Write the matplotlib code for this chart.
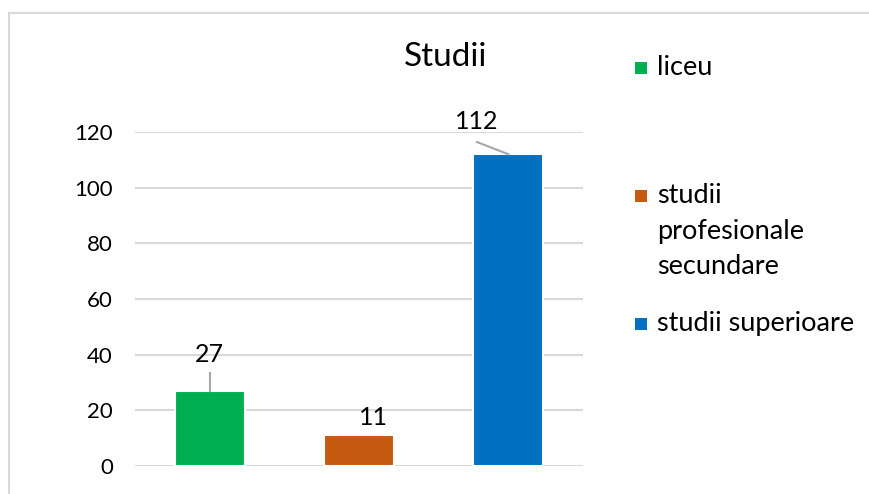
import matplotlib.pyplot as plt
from matplotlib.patches import Rectangle

categories = ['liceu', 'studii\nprofesionale\nsecundare', 'studii superioare']
values = [27, 11, 112]
colors = ['#00B050', '#C55A11', '#0070C0']
yticks = [0, 20, 40, 60, 80, 100, 120]

plt.rcParams['font.family'] = ['Lato', 'DejaVu Sans']

W, H = 870, 494
fig = plt.figure(figsize=(W / 100, H / 100), dpi=100)

# chart frame (partly cut off at the bottom, as in the screenshot)
fig.patches.append(Rectangle((9 / W, -0.1), 1.2, 1.1 - 13 / H, transform=fig.transFigure,
                             fill=False, edgecolor='#D9D9D9', linewidth=1.5))

ax = fig.add_axes([135 / W, 1 - 466 / H, (583 - 135) / W, (466 - 132) / H])
x = range(len(values))
ax.bar(x, values, width=0.47, color=colors, edgecolor='white', linewidth=1.5, zorder=3)
ax.set_xlim(-0.5, 2.5)
ax.set_ylim(0, 120)
ax.set_yticks(yticks)
ax.set_xticks([])
ax.tick_params(axis='y', length=0, pad=16, labelsize=16)
ax.yaxis.grid(True, color='#D9D9D9', linewidth=1.5, zorder=0)
ax.set_axisbelow(True)
for s in ax.spines.values():
    s.set_visible(False)

# data labels with leader lines
lead = dict(color='#A6A6A6', lw=1.5, clip_on=False, zorder=4)
ax.text(0, 40, str(values[0]), ha='center', va='center', fontsize=18)
ax.plot([0, 0], [33.4, values[0]], **lead)
ax.text(1.1, values[1] + 6.5, str(values[1]), ha='center', va='center', fontsize=18)
ax.text(1.79, 123.8, str(values[2]), ha='center', va='center', fontsize=18)
ax.plot([1.79, 2.0], [116.4, values[2]], **lead)

fig.text(446 / W, 1 - 57 / H, 'Studii', ha='center', va='center', fontsize=24)

# legend drawn by hand so that wrapped labels keep the marker on the first line
leg_y = [68, 196, 324]
for cat, c, yc in zip(categories, colors, leg_y):
    fig.patches.append(Rectangle((635 / W, 1 - (yc + 6) / H), 12 / W, 12 / H,
                                 transform=fig.transFigure, facecolor=c, edgecolor='none'))
    for i, line in enumerate(cat.split('\n')):
        fig.text(657 / W, 1 - (yc + 7 + i * 35.5) / H, line, ha='left', va='baseline',
                 fontsize=19.5)

fig.savefig('out.png', dpi=100)
